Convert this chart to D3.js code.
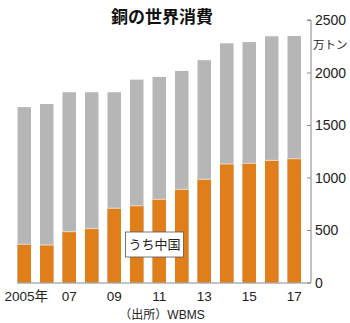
<!DOCTYPE html>
<html><head><meta charset="utf-8">
<script src="https://cdn.jsdelivr.net/npm/d3@7"></script>
<style>
body{margin:0;background:#fff;}
text{font-family:"Liberation Sans","Noto Sans CJK JP",sans-serif;}
</style></head>
<body><svg id="c" width="350" height="323"></svg>
<script>
const years = ["2005","2006","2007","2008","2009","2010","2011","2012","2013","2014","2015","2016","2017"];
const yearLabels = ["2005年","","07","","09","","11","","13","","15","","17"];
const total = [1670,1700,1812,1812,1812,1932,1958,2015,2117,2278,2290,2345,2348];
const china = [364,357,484,513,707,731,792,887,983,1129,1135,1163,1179];
const yTicks = [0,500,1000,1500,2000,2500];

const svg = d3.select("#c");
const x = d3.scaleBand().domain(years).range([13,305.5]).paddingInner(0.4).paddingOuter(0.2);
const y = d3.scaleLinear().domain([0,2500]).range([282.5,20]);
const orange="#e07f1a", gray="#b6b6b6";

// gray totals
svg.append("g").selectAll("rect").data(years).join("rect")
  .attr("x",d=>x(d)).attr("width",x.bandwidth())
  .attr("y",(d,i)=>y(total[i])).attr("height",(d,i)=>y(0)-y(total[i]))
  .attr("fill",gray);
// orange china
svg.append("g").selectAll("rect").data(years).join("rect")
  .attr("x",d=>x(d)).attr("width",x.bandwidth())
  .attr("y",(d,i)=>y(china[i])).attr("height",(d,i)=>y(0)-y(china[i]))
  .attr("fill",orange);
// thin light line at boundary
svg.append("g").selectAll("line").data(years).join("line")
  .attr("x1",d=>x(d)).attr("x2",d=>x(d)+x.bandwidth())
  .attr("y1",(d,i)=>y(china[i])).attr("y2",(d,i)=>y(china[i]))
  .attr("stroke","#eee").attr("stroke-width",0.8);

// baseline
svg.append("line").attr("x1",17).attr("x2",311).attr("y1",y(0)+0.5).attr("y2",y(0)+0.5)
  .attr("stroke","#888").attr("stroke-width",1);

// right axis
const ax = svg.append("g").attr("transform","translate(311,0)")
  .call(d3.axisLeft(y).tickValues(yTicks).tickSize(4).tickFormat(""));
ax.select(".domain").attr("stroke","#888").attr("d","M-4,"+y(2500)+"H0V"+y(0));
ax.selectAll(".tick line").attr("stroke","#888");
svg.append("g").selectAll("text").data(yTicks).join("text")
  .attr("x",315).attr("y",d=>y(d)).attr("dy","0.36em")
  .attr("font-size",14).attr("fill","#222").text(d=>d);

svg.append("text").attr("x",313).attr("y",45).attr("dy","0.36em")
  .attr("font-size",11.5).attr("fill","#222").attr("font-family","Noto Sans CJK JP").text("万トン");

// x labels
svg.append("g").selectAll("text").data(years).join("text")
  .attr("x",(d,i)=>x(d)+x.bandwidth()/2 + (i===0?2:0)).attr("y",296).attr("dy","0.36em")
  .attr("text-anchor","middle").attr("font-size",13.5).attr("fill","#222")
  .text((d,i)=>yearLabels[i]);

// title
svg.append("text").attr("x",162).attr("y",17).attr("dy","0.36em").attr("text-anchor","middle")
  .attr("font-size",17).attr("font-weight","bold").attr("fill","#111")
  .attr("font-family","Noto Sans CJK JP").text("銅の世界消費");

// label box
svg.append("rect").attr("x",125.5).attr("y",232).attr("width",58).attr("height",25)
  .attr("fill","#fff").attr("stroke","#555").attr("stroke-width",0.8);
svg.append("text").attr("x",154.5).attr("y",244.5).attr("dy","0.36em").attr("text-anchor","middle")
  .attr("font-size",13).attr("fill","#222").attr("font-family","Noto Sans CJK JP").text("うち中国");

// source
svg.append("text").attr("x",162).attr("y",315).attr("dy","0.36em").attr("text-anchor","middle")
  .attr("font-size",12).attr("fill","#222").attr("font-family","Noto Sans CJK JP").text("（出所）WBMS");
</script></body></html>
